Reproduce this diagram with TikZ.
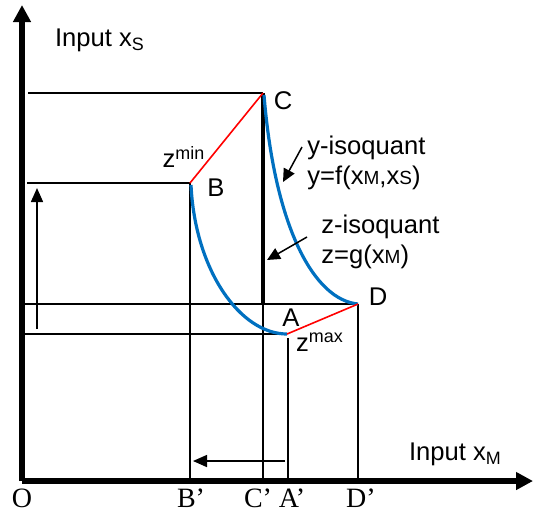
\documentclass[tikz,border=0pt]{standalone}
\usepackage{fontspec}
\setmainfont{Liberation Sans}
\newfontfamily\serifletters{Liberation Serif}
\usetikzlibrary{arrows.meta,positioning}

\begin{document}
\begin{tikzpicture}[x=0.5pt, y=-0.5pt, font=\fontsize{12.8}{15}\selectfont,
  axis/.style={line width=2.6pt, -{Triangle[length=8.5pt, width=8.5pt]}},
  guide/.style={line width=0.75pt},
  isoquant/.style={line width=1.6pt, color={rgb,255:red,0;green,112;blue,192}},
  zline/.style={line width=0.8pt, red},
  pointer/.style={line width=0.75pt, -{Triangle[length=6.5pt, width=6pt]}},
  tick/.style={font=\serifletters\fontsize{14}{16}\selectfont}]
\useasboundingbox (0,0) rectangle (533,516);

% points of the diagram
\coordinate (O) at (22,481);
\coordinate (xend) at (533,481);
\coordinate (yend) at (22,5);
\coordinate (C) at (263,93);
\coordinate (B) at (190,183);
\coordinate (A) at (287,334);
\coordinate (D) at (358,304);
\coordinate (Cmid) at (263,305);
\coordinate (Cb) at (263,481);
\coordinate (Bb) at (190,481);
\coordinate (Ab) at (288,481);
\coordinate (Db) at (358,481);
\coordinate (Atop) at (288,338);
\coordinate (Cl) at (28,93);
\coordinate (Bl) at (27,183);
\coordinate (Dl) at (19,304);
\coordinate (Al) at (25,334);

% guide lines
\draw[guide] (Cl) -- (C);
\draw[guide] (Bl) -- (B);
\draw[guide] (Dl) -- (D);
\draw[guide] (Al) -- (A);
\draw[guide] (B) -- (Bb);
\draw[guide] (Cmid) -- (Cb);
\draw[guide] (Atop) -- (Ab);
\draw[guide] (D) -- (Db);

% axes
\draw[axis] (O) -- (yend);
\draw[axis] (O) -- (xend);

% z-isoquant
\draw[line width=2pt] (C) -- (Cmid);

% y-isoquants
\draw[isoquant] (191,185) .. controls (195,270) and (240,334) .. (A);
\draw[isoquant] (264,95) .. controls (275,230) and (315,300) .. (D);

% z lines
\draw[zline] (B) -- (C);
\draw[zline] (A) -- (D);

% shift arrows
\coordinate (uplow) at (37,329);
\coordinate (uphigh) at (37,188);
\coordinate (leftfrom) at (285,461);
\coordinate (leftto) at (193,461);
\draw[guide, -{Triangle[length=7pt, width=6pt]}] (uplow) -- (uphigh);
\draw[guide, -{Triangle[length=7pt, width=6pt]}] (leftfrom) -- (leftto);

% labels
\node[anchor=west] (ylab) at (48,40) {Input x\textsubscript{S}};
\node[anchor=west] (xlab) at (402,454) {Input x\textsubscript{M}};
\node (Clab) at (283,101) {C};
\node (Blab) at (216,188) {B};
\node (Alab) at (291,318) {A};
\node (Dlab) at (378,297) {D};
\node (zmin) at (184,157) {z\textsuperscript{min}};
\node (zmax) at (320,342) {z\textsuperscript{max}};
\node[anchor=west, align=left, inner sep=0pt] (ylabel) at (307,163)
  {y-isoquant\\y=f(x{\fontsize{9.5}{11}\selectfont M},x{\fontsize{9.5}{11}\selectfont S})};
\node[anchor=west, align=left, inner sep=0pt] (zlabel) at (321,242)
  {z-isoquant\\z=g(x{\fontsize{9.5}{11}\selectfont M})};
\draw[pointer] (302,147) -- (283,182);
\draw[pointer] (307,237) -- (267,260);

% axis ticks
\node[tick] (Olab) at (22,498) {O};
\node[tick] (Btick) at (191,498) {B’};
\node[tick] (Ctick) at (258,498) {C’};
\node[tick] (Atick) at (292,498) {A’};
\node[tick] (Dtick) at (361,498) {D’};
\end{tikzpicture}
\end{document}
